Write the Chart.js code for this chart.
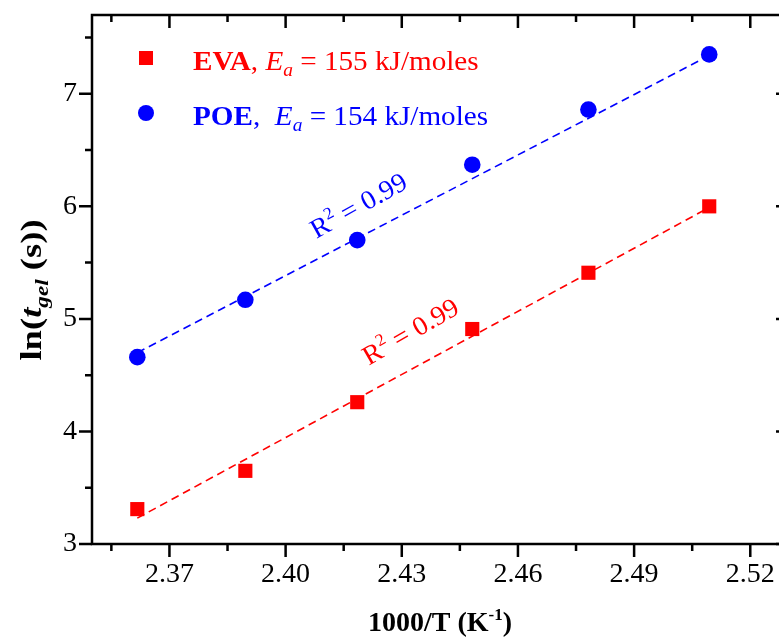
<!DOCTYPE html>
<html>
<head>
<meta charset="utf-8">
<script src="https://cdn.jsdelivr.net/npm/chart.js@4.4.0/dist/chart.umd.min.js"></script>
<style>
  html, body { margin: 0; padding: 0; overflow: hidden; background: #fff; }
  #wrap { width: 800px; height: 639px; }
</style>
</head>
<body>
<div id="wrap"><canvas id="chart" width="800" height="639"></canvas></div>
<script>
// 1000/T values (K^-1) and ln(t_gel) for both resins
const invTemp = [2.3617, 2.3896, 2.4185, 2.4482, 2.4782, 2.5094];
const evaLnT = [3.31, 3.65, 4.26, 4.91, 5.41, 6.0];
const poeLnT = [4.66, 5.17, 5.7, 6.37, 6.86, 7.35];

// linear fit end points
const fitX = [2.3617, 2.5094];
const evaFitY = [3.23, 5.99];
const poeFitY = [4.7, 7.34];

const xTicks = [2.37, 2.4, 2.43, 2.46, 2.49, 2.52];
const xMinorTicks = [2.355, 2.385, 2.415, 2.445, 2.475, 2.505];
const yTicks = [3, 4, 5, 6, 7];
const yMinorTicks = [3.5, 4.5, 5.5, 6.5, 7.5];

const RED = "#ff0000";
const BLUE = "#0000ff";
const FAMILY = "'Liberation Serif', 'Times New Roman', serif";

const toPoints = (xs, ys) => xs.map((v, i) => ({ x: v, y: ys[i] }));

// draws a run of differently styled pieces of text one after another,
// sx widens the run a little
function drawRich(ctx, parts, x, y, align, sx) {
  sx = sx || 1;
  let total = 0;
  parts.forEach((p) => {
    ctx.font = p.font;
    p.w = ctx.measureText(p.text).width;
    total += p.w;
  });
  ctx.save();
  ctx.translate(x, y);
  ctx.scale(sx, 1);
  let cx = align === "center" ? -total / 2 : 0;
  parts.forEach((p) => {
    ctx.font = p.font;
    ctx.fillText(p.text, cx, p.dy || 0);
    cx += p.w;
  });
  ctx.restore();
}

const framePlugin = {
  id: "frame",
  afterDatasetsDraw(chart) {
    const { ctx, chartArea: a } = chart;
    const x = chart.scales.x;
    const y = chart.scales.y;
    ctx.save();
    ctx.strokeStyle = "#000";
    ctx.lineWidth = 2.5;
    ctx.lineCap = "butt";
    ctx.strokeRect(a.left, a.top, a.right - a.left, a.bottom - a.top);
    ctx.beginPath();
    xTicks.forEach((v) => {
      const px = x.getPixelForValue(v);
      ctx.moveTo(px, a.bottom);
      ctx.lineTo(px, a.bottom + 13);
      ctx.moveTo(px, a.top);
      ctx.lineTo(px, a.top + 13);
    });
    xMinorTicks.forEach((v) => {
      const px = x.getPixelForValue(v);
      ctx.moveTo(px, a.bottom);
      ctx.lineTo(px, a.bottom + 7);
      ctx.moveTo(px, a.top);
      ctx.lineTo(px, a.top + 7);
    });
    yTicks.forEach((v) => {
      const py = y.getPixelForValue(v);
      ctx.moveTo(a.left, py);
      ctx.lineTo(a.left - 13, py);
      ctx.moveTo(a.right, py);
      ctx.lineTo(a.right - 13, py);
    });
    yMinorTicks.forEach((v) => {
      const py = y.getPixelForValue(v);
      ctx.moveTo(a.left, py);
      ctx.lineTo(a.left - 7, py);
      ctx.moveTo(a.right, py);
      ctx.lineTo(a.right - 7, py);
    });
    ctx.stroke();
    ctx.restore();
  },
  afterDraw(chart) {
    const { ctx } = chart;
    const x = chart.scales.x;
    const y = chart.scales.y;
    ctx.save();
    ctx.textBaseline = "alphabetic";

    // legend
    ctx.fillStyle = RED;
    ctx.fillRect(139, 51, 14, 14);
    drawRich(ctx, [
      { text: "EVA", font: `bold 27px ${FAMILY}` },
      { text: ", ", font: `27px ${FAMILY}` },
      { text: "E", font: `italic 27px ${FAMILY}` },
      { text: "a", font: `italic 18px ${FAMILY}`, dy: 6 },
      { text: " = 155 kJ/moles", font: `27px ${FAMILY}` },
    ], 193, 70, "left", 1.08);
    ctx.fillStyle = BLUE;
    ctx.beginPath();
    ctx.arc(146, 113, 8, 0, Math.PI * 2);
    ctx.fill();
    drawRich(ctx, [
      { text: "POE", font: `bold 27px ${FAMILY}` },
      { text: ",  ", font: `27px ${FAMILY}` },
      { text: "E", font: `italic 27px ${FAMILY}` },
      { text: "a", font: `italic 18px ${FAMILY}`, dy: 6 },
      { text: " = 154 kJ/moles", font: `27px ${FAMILY}` },
    ], 193, 125, "left", 1.08);

    // R² labels along the fit lines
    const r2 = [
      { color: BLUE, vx: 2.4188, vy: 6.01, angle: -29 },
      { color: RED, vx: 2.4322, vy: 4.89, angle: -30 },
    ];
    r2.forEach((r) => {
      ctx.save();
      ctx.translate(x.getPixelForValue(r.vx), y.getPixelForValue(r.vy));
      ctx.rotate((r.angle * Math.PI) / 180);
      ctx.fillStyle = r.color;
      drawRich(ctx, [
        { text: "R", font: `27px ${FAMILY}` },
        { text: "2", font: `17px ${FAMILY}`, dy: -11 },
        { text: " = 0.99", font: `27px ${FAMILY}` },
      ], 0, 9, "center", 1.04);
      ctx.restore();
    });

    // axis titles
    ctx.fillStyle = "#000";
    drawRich(ctx, [
      { text: "1000/T (K", font: `bold 28px ${FAMILY}` },
      { text: "-1", font: `bold 17px ${FAMILY}`, dy: -11 },
      { text: ")", font: `bold 28px ${FAMILY}` },
    ], 440, 631, "center");

    ctx.save();
    ctx.translate(41, 290);
    ctx.rotate(-Math.PI / 2);
    drawRich(ctx, [
      { text: "ln(", font: `bold 30px ${FAMILY}` },
      { text: "t", font: `bold italic 30px ${FAMILY}` },
      { text: "gel", font: `bold italic 19px ${FAMILY}`, dy: 7 },
      { text: " (s))", font: `bold 30px ${FAMILY}` },
    ], 0, 0, "center", 1.22);
    ctx.restore();

    ctx.restore();
  },
};

const chart = new Chart(document.getElementById("chart"), {
  type: "scatter",
  data: {
    datasets: [
      {
        label: "EVA",
        data: toPoints(invTemp, evaLnT),
        pointStyle: "rect",
        pointRadius: 10,
        pointHoverRadius: 10,
        backgroundColor: RED,
        borderColor: RED,
        borderWidth: 0,
        order: 1,
      },
      {
        label: "POE",
        data: toPoints(invTemp, poeLnT),
        pointStyle: "circle",
        pointRadius: 8.3,
        pointHoverRadius: 8.3,
        backgroundColor: BLUE,
        borderColor: BLUE,
        borderWidth: 0,
        order: 1,
      },
      {
        label: "EVA fit",
        data: toPoints(fitX, evaFitY),
        showLine: true,
        pointRadius: 0,
        borderColor: RED,
        borderWidth: 1.6,
        borderDash: [8, 5],
        order: 2,
      },
      {
        label: "POE fit",
        data: toPoints(fitX, poeFitY),
        showLine: true,
        pointRadius: 0,
        borderColor: BLUE,
        borderWidth: 1.6,
        borderDash: [8, 5],
        order: 2,
      },
    ],
  },
  options: {
    responsive: false,
    animation: false,
    devicePixelRatio: 1,
    layout: { padding: { top: 15, right: 11, left: 0, bottom: 0 } },
    plugins: {
      legend: { display: false },
      tooltip: { enabled: false },
    },
    scales: {
      x: {
        type: "linear",
        min: 2.35,
        max: 2.53,
        border: { display: false },
        grid: { display: false, drawTicks: false },
        afterBuildTicks: (scale) => {
          scale.ticks = xTicks.map((v) => ({ value: v }));
        },
        afterFit: (scale) => {
          scale.height = 95;
          scale.paddingLeft = 0;
          scale.paddingRight = 0;
        },
        ticks: {
          color: "#000",
          padding: 14,
          maxRotation: 0,
          font: { family: FAMILY, size: 28 },
          callback: (v) => v.toFixed(2),
        },
      },
      y: {
        type: "linear",
        min: 3,
        max: 7.7,
        border: { display: false },
        grid: { display: false, drawTicks: false },
        afterBuildTicks: (scale) => {
          scale.ticks = yTicks.map((v) => ({ value: v }));
        },
        afterFit: (scale) => {
          scale.width = 92;
          scale.paddingTop = 0;
          scale.paddingBottom = 0;
        },
        ticks: {
          color: "#000",
          padding: 15,
          font: { family: FAMILY, size: 28 },
          callback: (v) => String(v),
        },
      },
    },
  },
  plugins: [framePlugin],
});
</script>
</body>
</html>
